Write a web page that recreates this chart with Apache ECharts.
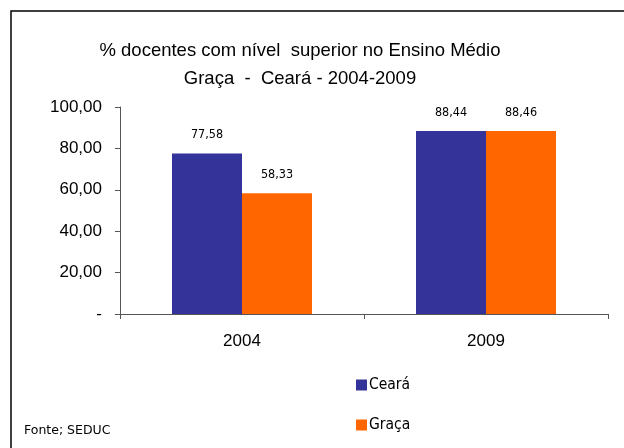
<!DOCTYPE html>
<html>
<head>
<meta charset="utf-8">
<script src="https://cdn.jsdelivr.net/npm/echarts@6/dist/echarts.min.js"></script>
<style>html,body{margin:0;padding:0;background:#fff}#c{width:624px;height:448px}</style>
</head>
<body>
<div id="c"></div>
<script>
const categories = ['2004', '2009'];
const seriesNames = ['Ceará', 'Graça'];
const cearaValues = [77.58, 88.44];
const gracaValues = [58.33, 88.46];
const yTicks = [0, 20, 40, 60, 80, 100];
const titleText = '% docentes com nível  superior no Ensino Médio\nGraça  -  Ceará - 2004-2009';
const sourceText = 'Fonte; SEDUC';

const fmt = v => v.toFixed(2).replace('.', ',');
const chart = echarts.init(document.getElementById('c'));
const labelStyle = {
  show: true, position: 'top', distance: 12,
  fontFamily: 'DejaVu Sans Condensed, DejaVu Sans', fontSize: 12.5, color: '#000',
  formatter: p => fmt(p.value)
};
chart.setOption({
  animation: false,
  title: {
    text: titleText, left: 295, top: 32, textAlign: 'center',
    textStyle: { fontFamily: 'Liberation Sans', fontSize: 18.5, fontWeight: 'normal', color: '#000', lineHeight: 28 }
  },
  graphic: [
    { type: 'polyline', shape: { points: [[11, 448], [11, 11], [624, 11]] }, style: { stroke: '#000', lineWidth: 1.5, fill: null } },
    { type: 'text', left: 24, top: 424, style: { text: sourceText, fontFamily: 'DejaVu Sans', fontSize: 12.5, fill: '#000' } }
  ],
  legend: {
    orient: 'vertical', left: 351, top: 372, itemGap: 24, itemWidth: 11, itemHeight: 11,
    icon: 'rect',
    textStyle: { fontFamily: 'DejaVu Sans Condensed, DejaVu Sans', fontSize: 15.5, color: '#000', padding: [0, 0, 0, -3] },
    data: seriesNames
  },
  grid: { left: 120, right: 16, top: 107, bottom: 134 },
  xAxis: {
    type: 'category', data: categories,
    axisLine: { lineStyle: { color: '#555', width: 1 } },
    axisTick: { show: true, length: 5, alignWithLabel: false, lineStyle: { color: '#555' } },
    axisLabel: { fontFamily: 'Liberation Sans', fontSize: 17, color: '#000', margin: 19 }
  },
  yAxis: {
    type: 'value', min: 0, max: 100, interval: 20,
    axisLine: { show: true, lineStyle: { color: '#555', width: 1 } },
    axisTick: { show: true, length: 5, lineStyle: { color: '#555' } },
    splitLine: { show: false },
    axisLabel: {
      fontFamily: 'Liberation Sans', fontSize: 17, color: '#000', margin: 18,
      formatter: v => (yTicks.includes(v) ? (v === 0 ? '-' : fmt(v)) : '')
    }
  },
  series: [
    { name: seriesNames[0], type: 'bar', data: cearaValues, barWidth: 70, barGap: '0%', itemStyle: { color: '#333399' }, label: labelStyle },
    { name: seriesNames[1], type: 'bar', data: gracaValues, barWidth: 70, barGap: '0%', itemStyle: { color: '#FF6600' }, label: labelStyle }
  ]
});
</script>
</body>
</html>
